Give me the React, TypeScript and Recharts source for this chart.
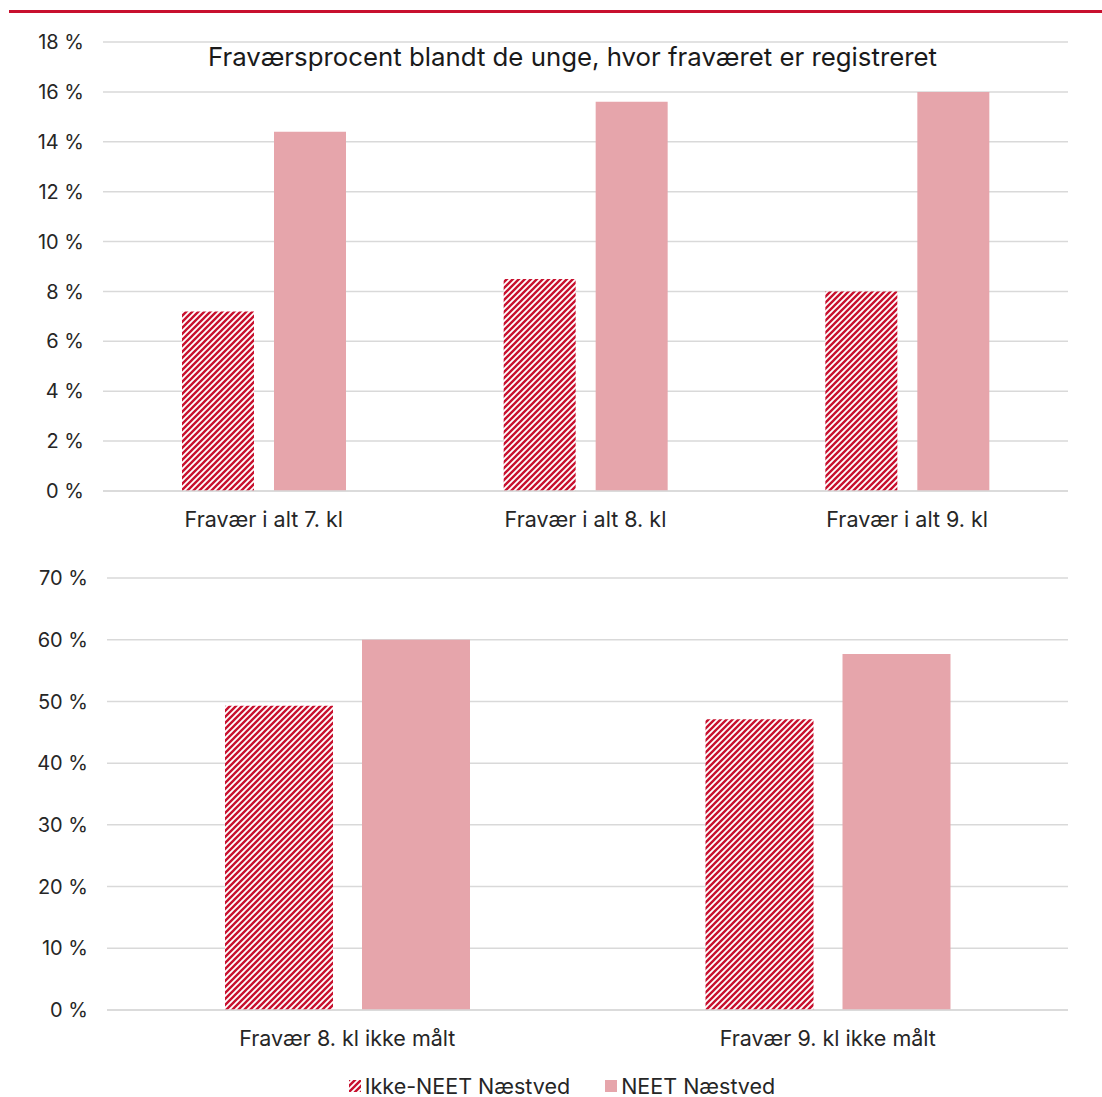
import { BarChart, Bar, XAxis, YAxis, CartesianGrid } from 'recharts';

const topCategories = ['Fravær i alt 7. kl', 'Fravær i alt 8. kl', 'Fravær i alt 9. kl'];
const topIkkeNeet = [7.2, 8.5, 8.0];
const topNeet = [14.4, 15.6, 16.0];
const topTicks = [0, 2, 4, 6, 8, 10, 12, 14, 16, 18];

const bottomCategories = ['Fravær 8. kl ikke målt', 'Fravær 9. kl ikke målt'];
const bottomIkkeNeet = [49.3, 47.1];
const bottomNeet = [60.0, 57.7];
const bottomTicks = [0, 10, 20, 30, 40, 50, 60, 70];

const seriesNames = ['Ikke-NEET Næstved', 'NEET Næstved'];
const chartTitle = 'Fraværsprocent blandt de unge, hvor fraværet er registreret';

const RED = '#c8102e';
const PINK = '#e6a5ab';
const FONT = 'Inter, "Noto Sans", sans-serif';

const topData = topCategories.map((name, i) => ({
  name,
  ikke: topIkkeNeet[i],
  neet: topNeet[i],
}));

const bottomData = bottomCategories.map((name, i) => ({
  name,
  ikke: bottomIkkeNeet[i],
  neet: bottomNeet[i],
}));

const yTickStyle = { fill: '#262626', fontSize: 20, fontFamily: FONT };
const xTickStyle = { fill: '#262626', fontSize: 21.5, fontFamily: FONT };

function Hatch() {
  return (
    <svg width={0} height={0} style={{ position: 'absolute' }}>
      <defs>
        <pattern id="hatch" patternUnits="userSpaceOnUse" width={6} height={6}>
          <rect width={6} height={6} fill="#fff" />
          <path
            d="M0,6 L6,0 M-1.5,1.5 L1.5,-1.5 M4.5,7.5 L7.5,4.5"
            stroke={RED}
            strokeWidth={2.4}
          />
        </pattern>
      </defs>
    </svg>
  );
}

export default function App() {
  return (
    <div
      style={{
        position: 'absolute',
        left: 0,
        top: 0,
        width: 1102,
        height: 1097,
        background: '#fff',
        fontFamily: FONT,
      }}
    >
      <Hatch />
      {/* red rule at the top */}
      <div style={{ position: 'absolute', left: 9, top: 10, width: 1093, height: 3, background: RED }} />

      {/* upper chart */}
      <div style={{ position: 'absolute', left: 0, top: 0 }}>
        <BarChart
          width={1102}
          height={540}
          data={topData}
          margin={{ top: 42, right: 34, left: 0, bottom: 19 }}
          barSize={72}
          barGap={20}
        >
          <CartesianGrid vertical={false} stroke="#d9d9d9" strokeWidth={1.5} />
          <XAxis
            dataKey="name"
            tickLine={false}
            axisLine={{ stroke: '#d9d9d9', strokeWidth: 1.5 }}
            tick={xTickStyle}
            tickMargin={15}
            height={30}
          />
          <YAxis
            domain={[0, 18]}
            ticks={topTicks}
            interval={0}
            width={103}
            axisLine={false}
            tickLine={false}
            tickMargin={13}
            tick={yTickStyle}
            tickFormatter={(v: number) => `${v} %`}
          />
          <Bar dataKey="ikke" name={seriesNames[0]} fill="url(#hatch)" isAnimationActive={false} />
          <Bar dataKey="neet" name={seriesNames[1]} fill={PINK} isAnimationActive={false} />
        </BarChart>
      </div>

      {/* title sits inside the upper plot */}
      <div
        style={{
          position: 'absolute',
          left: 0,
          width: 1145,
          top: 41,
          textAlign: 'center',
          fontSize: 25.8,
          color: '#1a1a1a',
          lineHeight: '32px',
        }}
      >
        {chartTitle}
      </div>

      {/* lower chart */}
      <div style={{ position: 'absolute', left: 0, top: 540 }}>
        <BarChart
          width={1102}
          height={557}
          data={bottomData}
          margin={{ top: 38, right: 34, left: 0, bottom: 57 }}
          barSize={108}
          barGap={29}
        >
          <CartesianGrid vertical={false} stroke="#d9d9d9" strokeWidth={1.5} />
          <XAxis
            dataKey="name"
            tickLine={false}
            axisLine={{ stroke: '#d9d9d9', strokeWidth: 1.5 }}
            tick={xTickStyle}
            tickMargin={15}
            height={30}
          />
          <YAxis
            domain={[0, 70]}
            ticks={bottomTicks}
            interval={0}
            width={107}
            axisLine={false}
            tickLine={false}
            tickMargin={13}
            tick={yTickStyle}
            tickFormatter={(v: number) => `${v} %`}
          />
          <Bar dataKey="ikke" name={seriesNames[0]} fill="url(#hatch)" isAnimationActive={false} />
          <Bar dataKey="neet" name={seriesNames[1]} fill={PINK} isAnimationActive={false} />
        </BarChart>
      </div>

      {/* legend */}
      <div
        style={{
          position: 'absolute',
          left: 0,
          width: 1102,
          top: 1075,
          height: 22,
          display: 'flex',
          justifyContent: 'center',
          alignItems: 'center',
          fontSize: 21.5,
          color: '#262626',
          lineHeight: '22px',
          paddingLeft: 22,
          boxSizing: 'border-box',
        }}
      >
        <svg width={12} height={12} style={{ marginRight: 4 }}>
          <rect width={12} height={12} fill="url(#hatch)" />
        </svg>
        <span style={{ marginRight: 35 }}>{seriesNames[0]}</span>
        <svg width={12} height={12} style={{ marginRight: 4 }}>
          <rect width={12} height={12} fill={PINK} />
        </svg>
        <span>{seriesNames[1]}</span>
      </div>
    </div>
  );
}
